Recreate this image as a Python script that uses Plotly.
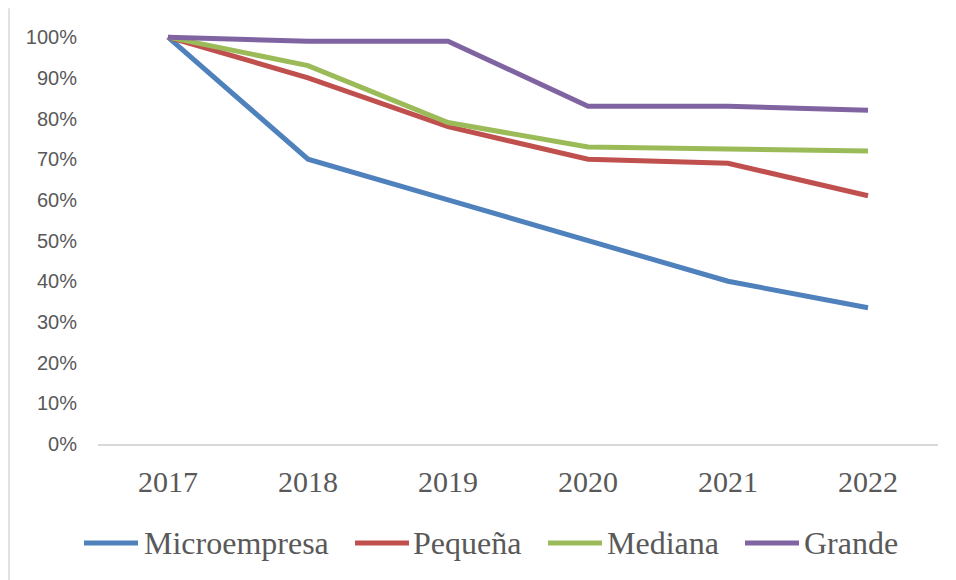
import plotly.graph_objects as go

years = ["2017", "2018", "2019", "2020", "2021", "2022"]
microempresa = [1.00, 0.70, 0.60, 0.50, 0.40, 0.335]
pequena = [1.00, 0.90, 0.78, 0.70, 0.69, 0.61]
mediana = [1.00, 0.93, 0.79, 0.73, 0.725, 0.72]
grande = [1.00, 0.99, 0.99, 0.83, 0.83, 0.82]
ytick_vals = [0, 0.1, 0.2, 0.3, 0.4, 0.5, 0.6, 0.7, 0.8, 0.9, 1.0]
ytick_text = ["0%", "10%", "20%", "30%", "40%", "50%", "60%", "70%", "80%", "90%", "100%"]

series = [
    ("Microempresa", microempresa, "#4F81BD"),
    ("Pequeña", pequena, "#C0504D"),
    ("Mediana", mediana, "#9BBB59"),
    ("Grande", grande, "#8064A2"),
]

fig = go.Figure()
for name, vals, col in series:
    fig.add_trace(go.Scatter(x=years, y=vals, name=name, mode="lines",
                             line=dict(color=col, width=5), cliponaxis=False,
                             showlegend=False))

W, H = 956, 580
OFF = 8  # page body margin offset
# plot area in page pixels: x 98..938, y(0%)=444, y(100%)=37
ml = 98 - OFF
mr = W - (938 - OFF)
mb = H - (444 - OFF)
ph = (444 - 37) * 1.02
mt = H - mb - ph
pw = W - ml - mr

def px_x(px):
    return (px - OFF - ml) / pw

def px_y(py):
    return (H - mb - (py - OFF)) / ph

fig.update_layout(
    width=W, height=H,
    margin=dict(l=ml, r=mr, t=mt, b=mb, pad=0, autoexpand=False),
    paper_bgcolor="white", plot_bgcolor="white",
    showlegend=False,
    xaxis=dict(type="category", range=[-0.5, 5.5], showgrid=False, automargin=False,
               showline=True, linecolor="#D9D9D9", linewidth=1.5,
               ticks="", ticklabelstandoff=10,
               tickfont=dict(family="Liberation Serif", size=30, color="#595959")),
    yaxis=dict(range=[0, 1.02], tickvals=ytick_vals, ticktext=ytick_text, automargin=False,
               showgrid=False, showline=False, zeroline=False, ticks="",
               ticklabelstandoff=20,
               tickfont=dict(family="Liberation Sans", size=20, color="#595959")),
)

# left frame border
fig.add_shape(type="line", xref="paper", yref="paper",
              x0=px_x(9), x1=px_x(9), y0=px_y(H + OFF), y1=px_y(OFF),
              line=dict(color="#D9D9D9", width=1.5))

# legend (manual)
legend_pos = [(84, 142), (355, 411), (548, 605), (745, 802)]
for (name, vals, col), (lx, tx) in zip(series, legend_pos):
    fig.add_shape(type="line", xref="paper", yref="paper",
                  x0=px_x(lx), x1=px_x(lx + 54), y0=px_y(543), y1=px_y(543),
                  line=dict(color=col, width=5))
    fig.add_annotation(xref="paper", yref="paper", x=px_x(tx), y=px_y(543),
                       text=name, showarrow=False, xanchor="left", yanchor="middle",
                       font=dict(family="Liberation Serif", size=32, color="#595959"))

fig.write_html("out.html")
